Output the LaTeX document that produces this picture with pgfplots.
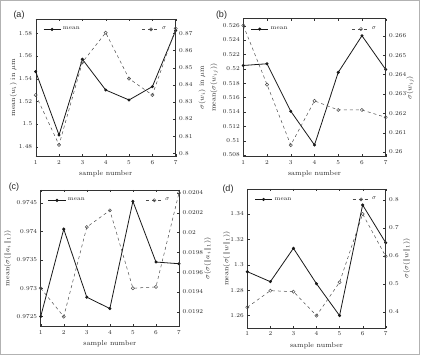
\documentclass[border=0pt]{standalone}
\usepackage{fontspec}
\newfontfamily\arialfont{Liberation Sans}
\usepackage{pgfplots}
\pgfplotsset{compat=1.18}
\pgfplotsset{
 panel/.style={scale only axis, xmin=1, xmax=7, xtick={1,2,3,4,5,6,7},
   tick label style={font=\fontsize{5.7}{6.5}\selectfont, text=black!85},
   label style={font=\fontsize{7}{8}\selectfont, text=black!85},
   scaled y ticks=false,
   yticklabel style={/pgf/number format/fixed, /pgf/number format/precision=4},
   tick align=inside, major tick length=2.5pt,
   axis line style={black!80}, tick style={black!80},
   legend style={draw=none, fill=none, font=\fontsize{6}{7}\selectfont, text=black!85},
   legend cell align=left},
 ylpos/.style={ylabel style={at={(rel axis cs:#1,0.5)}, anchor=center}},
 meanplot/.style={black!90, line width=0.8pt, mark=*, mark size=1.1pt},
 sigplot/.style={black!70, line width=0.5pt, dashed, mark=o, mark size=1.6pt, mark options={solid}},
}
\begin{document}
\begin{tikzpicture}
\useasboundingbox (0,0) rectangle (421pt,355pt);
\draw[black!30, line width=0.8pt] (0.4pt,0.6pt) rectangle (419.8pt,354.6pt);
% (a)
\begin{axis}[panel, at={(35.7pt,198.3pt)}, anchor=south west, width=140pt, height=137.7pt,
  ymin=1.4712, ymax=1.5926, ytick={1.48,1.5,1.52,1.54,1.56,1.58}, axis y line*=left,
  ylabel={mean$(w_i)$ in $\mu$m}, ylpos=-0.16, xlabel={sample number}, legend pos=north west]
\addplot[meanplot] coordinates {(1,1.5462) (2,1.4903) (3,1.5571) (4,1.5300) (5,1.5212) (6,1.5330) (7,1.5824)};
\addlegendentry{mean}
\end{axis}
\begin{axis}[panel, at={(35.7pt,198.3pt)}, anchor=south west, width=140pt, height=137.7pt,
  ymin=0.798, ymax=0.8784, ytick={0.8,0.81,0.82,0.83,0.84,0.85,0.86,0.87}, axis y line*=right, axis x line=none,
  ylabel={$\sigma(w_i)$ in $\mu$m}, ylpos=1.188, legend pos=north east]
\addplot[sigplot] coordinates {(1,0.8340) (2,0.8049) (3,0.8531) (4,0.8704) (5,0.8436) (6,0.8340) (7,0.8729)};
\addlegendentry{$\sigma$}
\end{axis}
% (b)
\begin{axis}[panel, at={(243.3pt,198.3pt)}, anchor=south west, width=142.4pt, height=138pt,
  ymin=0.50777, ymax=0.52697, ytick={0.508,0.51,0.512,0.514,0.516,0.518,0.52,0.522,0.524,0.526}, axis y line*=left,
  ylabel={mean$(\sigma(w_{ij}))$}, ylpos=-0.206, xlabel={sample number}, legend pos=north west]
\addplot[meanplot] coordinates {(1,0.52046) (2,0.5207) (3,0.5141) (4,0.5094) (5,0.5195) (6,0.5246) (7,0.5199)};
\addlegendentry{mean}
\end{axis}
\begin{axis}[panel, at={(243.3pt,198.3pt)}, anchor=south west, width=142.4pt, height=138pt,
  ymin=0.25976, ymax=0.26688, ytick={0.26,0.261,0.262,0.263,0.264,0.265,0.266}, axis y line*=right, axis x line=none,
  ylabel={$\sigma(w_{ij})$}, ylpos=1.171, legend pos=north east]
\addplot[sigplot] coordinates {(1,0.26653) (2,0.26348) (3,0.26036) (4,0.26264) (5,0.26217) (6,0.26217) (7,0.26179)};
\addlegendentry{$\sigma$}
\end{axis}
% (c)
\begin{axis}[panel, at={(40.7pt,28.3pt)}, anchor=south west, width=138.3pt, height=136.7pt,
  ymin=0.97232, ymax=0.97473, ytick={0.9725,0.973,0.9735,0.974,0.9745}, axis y line*=left,
  ylabel={mean$(\sigma(\|a_i\|_1))$}, ylpos=-0.24, xlabel={sample number}, legend pos=north west]
\addplot[meanplot] coordinates {(1,0.9725) (2,0.97404) (3,0.97284) (4,0.97264) (5,0.97453) (6,0.97346) (7,0.97343)};
\addlegendentry{mean}
\end{axis}
\begin{axis}[panel, at={(40.7pt,28.3pt)}, anchor=south west, width=138.3pt, height=136.7pt,
  ymin=0.019048, ymax=0.02043, ytick={0.0192,0.0194,0.0196,0.0198,0.02,0.0202,0.0204}, axis y line*=right, axis x line=none,
  ylabel={$\sigma(\sigma(\|a_i\|_1))$}, ylpos=1.207, legend pos=north east]
\addplot[sigplot] coordinates {(1,0.019437) (2,0.01915) (3,0.020055) (4,0.020224) (5,0.019437) (6,0.01945) (7,0.0204)};
\addlegendentry{$\sigma$}
\end{axis}
% (d)
\begin{axis}[panel, at={(247.3pt,26.7pt)}, anchor=south west, width=138.4pt, height=139.3pt,
  ymin=1.25, ymax=1.3597, ytick={1.26,1.28,1.3,1.32,1.34}, axis y line*=left,
  ylabel={mean$(\sigma(\|w\|_1))$}, ylpos=-0.149, xlabel={sample number}, legend pos=north west]
\addplot[meanplot] coordinates {(1,1.2946) (2,1.2867) (3,1.313) (4,1.2851) (5,1.26) (6,1.3471) (7,1.3174)};
\addlegendentry{mean}
\end{axis}
\begin{axis}[panel, at={(247.3pt,26.7pt)}, anchor=south west, width=138.4pt, height=139.3pt,
  ymin=0.3403, ymax=0.8394, ytick={0.4,0.5,0.6,0.7,0.8}, axis y line*=right, axis x line=none,
  ylabel={$\sigma(\sigma(\|w\|_1))$}, ylpos=1.152, legend pos=north east]
\addplot[sigplot] coordinates {(1,0.4155) (2,0.4752) (3,0.4716) (4,0.3857) (5,0.5051) (6,0.7499) (7,0.5982)};
\addlegendentry{$\sigma$}
\end{axis}
\node[font=\arialfont\fontsize{9}{10}\selectfont, text=black!85] at (19pt,339.7pt) {(a)};
\node[font=\arialfont\fontsize{9}{10}\selectfont, text=black!85] at (221.5pt,339.7pt) {(b)};
\node[font=\arialfont\fontsize{9}{10}\selectfont, text=black!85] at (14pt,168pt) {(c)};
\node[font=\arialfont\fontsize{9}{10}\selectfont, text=black!85] at (228pt,166pt) {(d)};
\end{tikzpicture}
\end{document}
